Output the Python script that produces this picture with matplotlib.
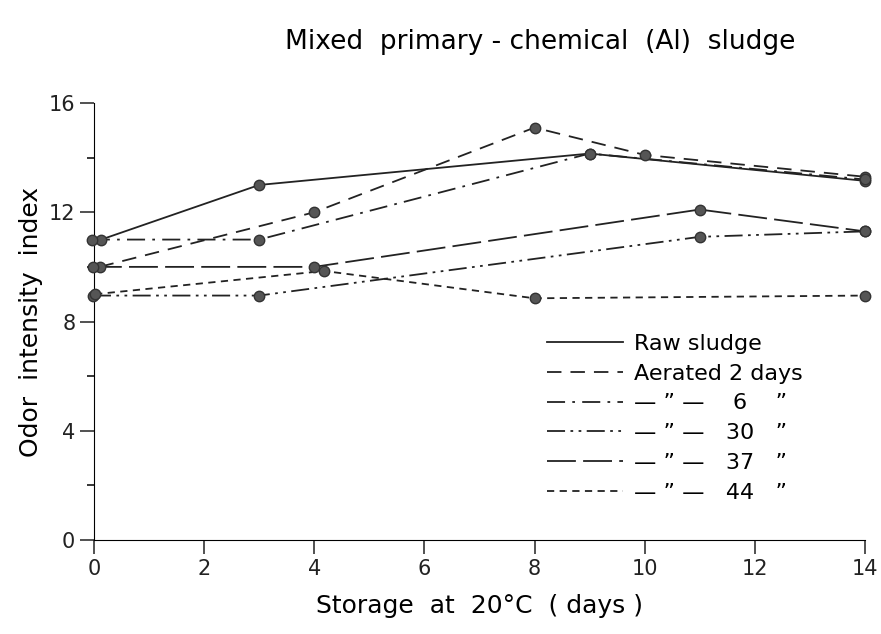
import numpy as np
import matplotlib.pyplot as plt
from matplotlib.ticker import MultipleLocator

# data (days, odor intensity index)
raw_x = [0.13, 3, 9, 14]
raw_y = [11, 13, 14.15, 13.15]
aer2_x = [0.1, 4, 8, 10, 14]
aer2_y = [10, 12, 15.1, 14.1, 13.3]
aer6_x = [-0.04, 3, 9, 14]
aer6_y = [11, 11, 14.15, 13.2]
aer30_x = [-0.02, 3, 11, 14]
aer30_y = [8.95, 8.95, 11.1, 11.3]
aer37_x = [-0.02, 4, 11, 14]
aer37_y = [10, 10, 12.1, 11.3]
aer44_x = [0.02, 4.18, 8, 14]
aer44_y = [9.0, 9.85, 8.85, 8.95]

labels = ['Raw sludge', 'Aerated 2 days',
          '\u2014 \u201d \u2014    6    \u201d',
          '\u2014 \u201d \u2014   30   \u201d',
          '\u2014 \u201d \u2014   37   \u201d',
          '\u2014 \u201d \u2014   44   \u201d']
styles = ['-', (0, (8, 5)), (0, (10, 4, 1.5, 4)), (0, (10, 3, 1.5, 3, 1.5, 3)),
          (0, (16, 4)), (0, (4, 3))]

plt.rcParams['font.family'] = ['DejaVu Sans']
fig = plt.figure(figsize=(8.81, 6.34), dpi=100)
ax = fig.add_axes([0.1067, 0.1483, 0.875, 0.6892])

series = [(raw_x, raw_y), (aer2_x, aer2_y), (aer6_x, aer6_y),
          (aer30_x, aer30_y), (aer37_x, aer37_y), (aer44_x, aer44_y)]
handles = []
for (xs, ys), ls, lab in zip(series, styles, labels):
    ax.plot(xs, ys, color='#222222', lw=1.3, linestyle=ls, clip_on=False, zorder=2)
    ax.plot(xs, ys, 'o', color='#555555', mec='#333333', ms=7.5, clip_on=False, zorder=3)
    h, = ax.plot([], [], color='#222222', lw=1.3, linestyle=ls, label=lab)
    handles.append(h)

ax.set_xlim(0, 14)
ax.set_ylim(0, 16)
ax.set_xticks(np.arange(0, 15, 2))
ax.set_yticks(np.arange(0, 17, 4))
ax.yaxis.set_minor_locator(MultipleLocator(2))
ax.spines['top'].set_visible(False)
ax.spines['right'].set_visible(False)
ax.tick_params(axis='both', which='major', length=10, width=1.1, labelsize=15, colors='#222222')
ax.tick_params(axis='y', which='minor', length=5, width=1.1)

leg = ax.legend(handles=handles, loc='upper left', bbox_to_anchor=(0.588, 0.472),
                frameon=False, fontsize=16, handlelength=3.4, labelspacing=0.44,
                handletextpad=0.5, borderpad=0, borderaxespad=0)

ax.set_xlabel('Storage  at  20\u00b0C  ( days )', fontsize=18, labelpad=11)
ax.set_ylabel('Odor  intensity  index', fontsize=18, labelpad=4)
fig.text(0.613, 0.934, 'Mixed  primary - chemical  (Al)  sludge', fontsize=19,
         ha='center', va='center')

fig.savefig('out.png', dpi=100)
